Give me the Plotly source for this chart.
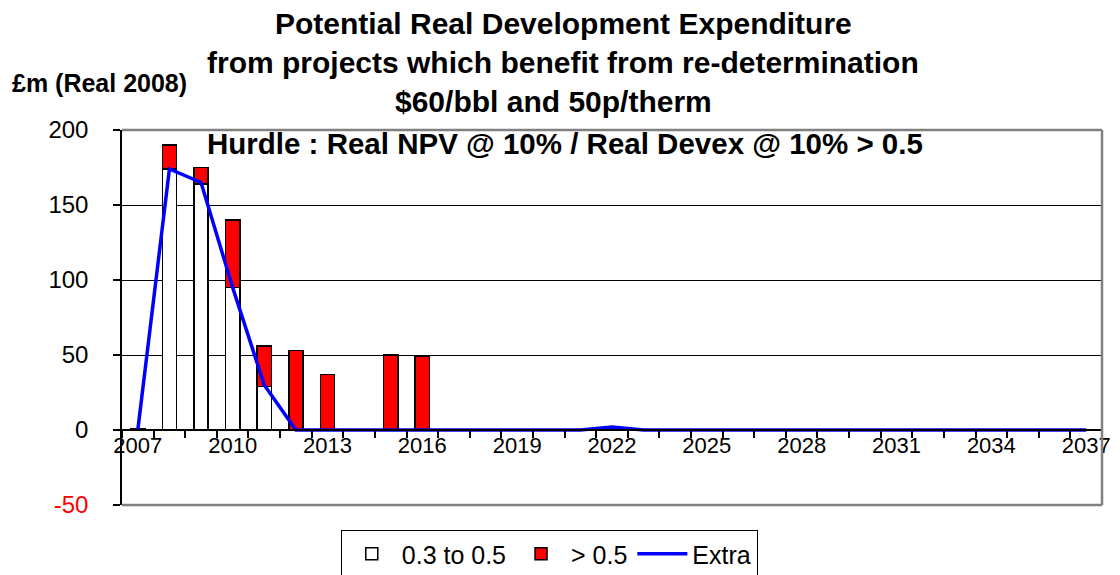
import plotly.graph_objects as go

# Data
years = list(range(2007, 2038))
tick_years = [2007, 2010, 2013, 2016, 2019, 2022, 2025, 2028, 2031, 2034, 2037]

mid_hurdle = [1, 174, 164, 95, 29, 0, 0, 0, 0, 0, 0, 0, 0, 0, 0, 1,
              0, 0, 0, 0, 0, 0, 0, 0, 0, 0, 0, 0, 0, 0, 0]
high_hurdle = [0, 16, 11, 45, 27, 53, 37, 0, 50, 49, 0, 0, 0, 0, 0, 0,
               0, 0, 0, 0, 0, 0, 0, 0, 0, 0, 0, 0, 0, 0, 0]
extra = [0, 174, 165, 95, 30, 0, 0, 0, 0, 0, 0, 0, 0, 0, 0, 2,
         0, 0, 0, 0, 0, 0, 0, 0, 0, 0, 0, 0, 0, 0, 0]

y_ticks = [-50, 0, 50, 100, 150, 200]
y_text = ['<span style="color:red">-50</span>', '0', '50', '100', '150', '200']

FONT = 'Liberation Sans, Arial, sans-serif'

fig = go.Figure()

fig.add_trace(go.Bar(
    x=years, y=mid_hurdle, name='0.3 to 0.5', width=0.45,
    marker=dict(color='white', line=dict(color='black', width=1.5))
))
fig.add_trace(go.Bar(
    x=years, y=high_hurdle, name='> 0.5', width=0.45,
    marker=dict(color='#ff0000', line=dict(color='black', width=1.5))
))
fig.add_trace(go.Scatter(
    x=years, y=extra, name='Extra', mode='lines',
    line=dict(color='#0000ff', width=3.5)
))

# boundaries between categories, for the tick marks
bounds = [y - 0.5 for y in years] + [years[-1] + 0.5]

# the page adds an 8px body margin, so the margins are reduced by 8px
fig.update_layout(
    width=1120, height=575,
    margin=dict(l=114, r=26, t=122, b=78, autoexpand=False),
    paper_bgcolor='white', plot_bgcolor='white',
    barmode='stack',
    font=dict(family=FONT, color='black'),
    showlegend=True,
    legend=dict(
        orientation='h', x=0.436, xanchor='center',
        yref='container', y=0.092, yanchor='top',
        bordercolor='black', borderwidth=1, font=dict(size=25),
        traceorder='normal', itemwidth=50
    ),
    xaxis=dict(
        range=[2006.5, 2037.5], anchor='free', position=0.2, automargin=False,
        tickmode='array', tickvals=tick_years, ticks='', ticklabelstandoff=-4,
        tickfont=dict(size=22), showgrid=False, zeroline=False,
        showline=True, linecolor='black', linewidth=1.5,
        minor=dict(tickvals=bounds, ticks='outside', ticklen=7,
                   tickwidth=1.5, tickcolor='black', showgrid=False)
    ),
    yaxis=dict(
        range=[-50, 200], tickmode='array', tickvals=y_ticks, ticktext=y_text,
        automargin=False, ticklabelstandoff=20,
        ticks='outside', ticklen=7, tickwidth=1.5, tickcolor='black',
        tickfont=dict(size=24), showline=True, linecolor='black', linewidth=1.5,
        showgrid=True, gridcolor='black', gridwidth=1, zeroline=False
    ),
    shapes=[
        # grey plot-area border (top, right, bottom)
        dict(type='line', xref='paper', yref='paper', x0=0, x1=1, y0=1, y1=1,
             line=dict(color='#808080', width=2.5), layer='above'),
        dict(type='line', xref='paper', yref='paper', x0=1, x1=1, y0=0, y1=1,
             line=dict(color='#808080', width=2.5), layer='above'),
        dict(type='line', xref='paper', yref='paper', x0=0, x1=1, y0=0, y1=0,
             line=dict(color='#808080', width=2.5), layer='above'),
    ],
    annotations=[
        dict(text='<b>Potential Real Development Expenditure</b>', xref='paper', yref='paper',
             x=0.45, y=1.283, xanchor='center', yanchor='middle', showarrow=False,
             font=dict(size=30)),
        dict(text='<b>from projects which benefit from re-determination</b>', xref='paper',
             yref='paper', x=0.45, y=1.179, xanchor='center', yanchor='middle',
             showarrow=False, font=dict(size=30)),
        dict(text='<b>$60/bbl and 50p/therm</b>', xref='paper', yref='paper',
             x=0.44, y=1.075, xanchor='center', yanchor='middle', showarrow=False,
             font=dict(size=30)),
        dict(text='<b>£m (Real 2008)</b>', xref='paper', yref='paper',
             x=-0.114, y=1.125, xanchor='left', yanchor='middle', showarrow=False,
             font=dict(size=25)),
        dict(text='<b>Hurdle : Real NPV @ 10% / Real Devex @ 10% > 0.5</b>', xref='paper',
             yref='paper', x=0.452, y=0.965, xanchor='center', yanchor='middle',
             showarrow=False, font=dict(size=29.5)),
    ],
)

fig.write_html("out.html")
